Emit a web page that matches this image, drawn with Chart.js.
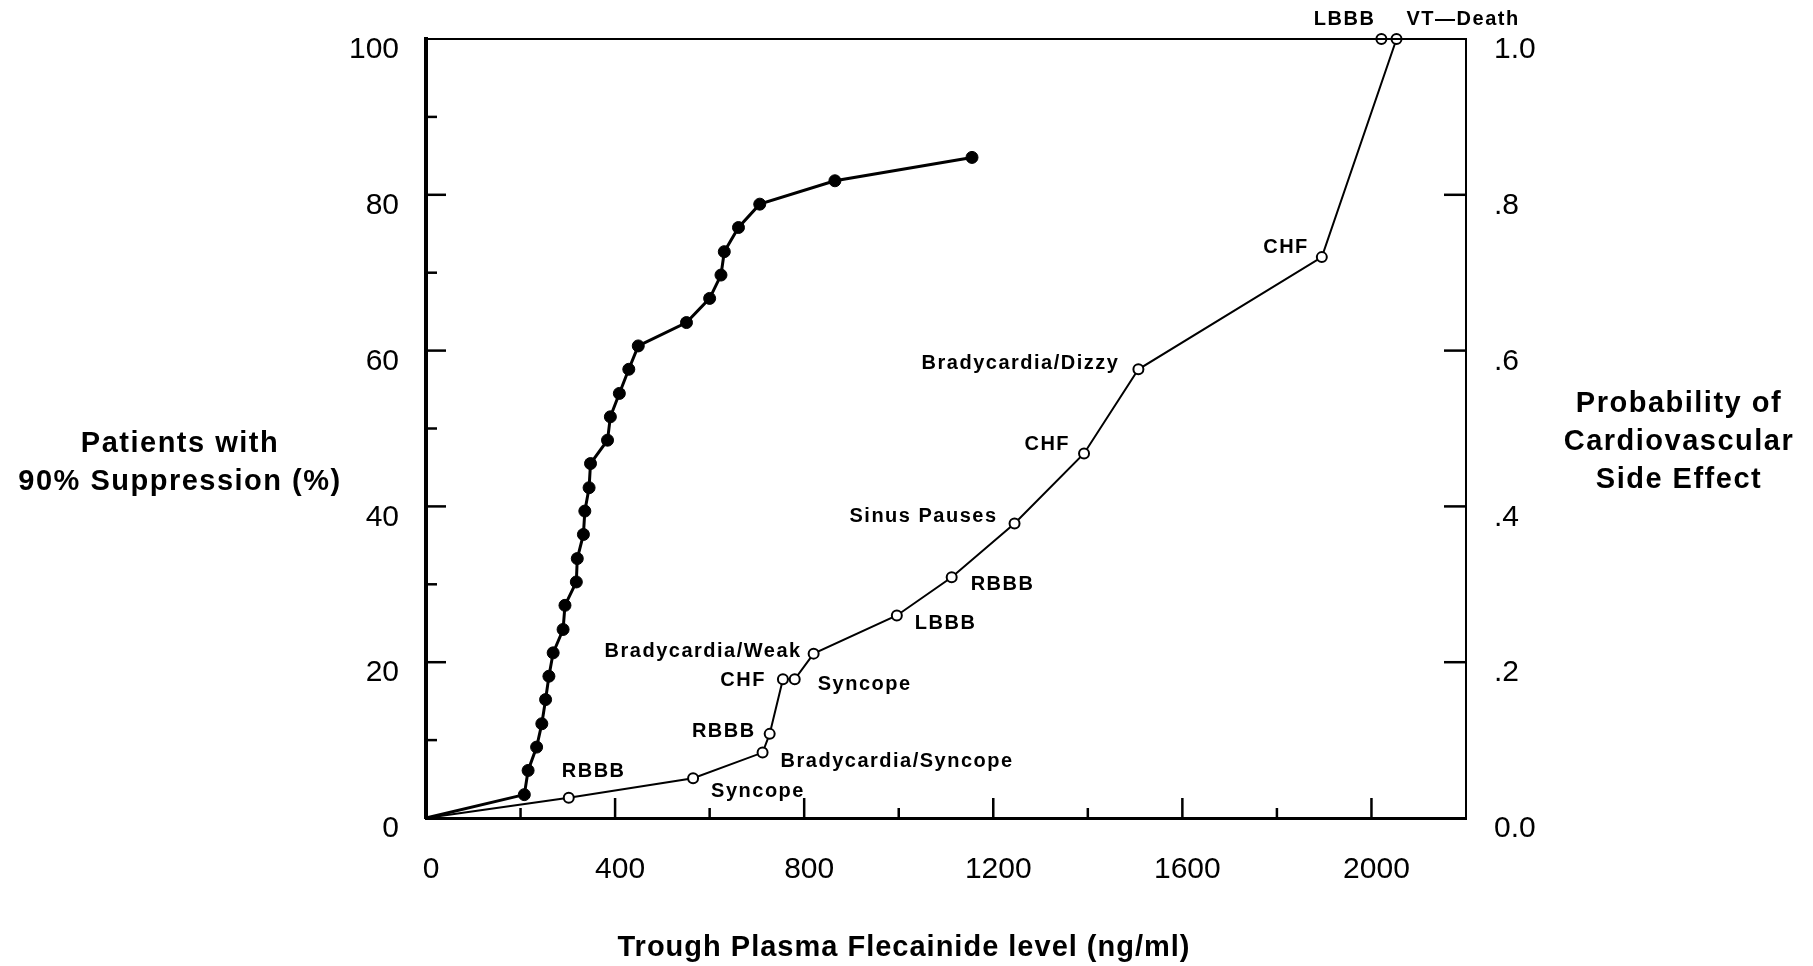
<!DOCTYPE html>
<html>
<head>
<meta charset="utf-8">
<title>Flecainide level vs suppression and side effects</title>
<script src="https://cdn.jsdelivr.net/npm/chart.js@4.4.0/dist/chart.umd.min.js"></script>
<style>
  html, body { margin: 0; padding: 0; background: #fff; }
  #wrap { position: relative; width: 1813px; height: 966px; }
  #chart { position: absolute; left: 0; top: 0; }
  .axis-title {
    position: absolute;
    font-family: 'Liberation Sans', Arial, sans-serif;
    font-weight: bold;
    font-size: 29px;
    letter-spacing: 1.5px;
    line-height: 38px;
    text-align: center;
    white-space: nowrap;
    color: #000;
    transform: translateX(-50%);
  }
</style>
</head>
<body>
<div id="wrap">
  <canvas id="chart" width="1813" height="966"></canvas>
  <div class="axis-title" style="left:180px; top:423px;">Patients with<br>90% Suppression (%)</div>
  <div class="axis-title" style="left:1679px; top:383px;">Probability of<br>Cardiovascular<br>Side Effect</div>
  <div class="axis-title" style="left:904px; top:927px; letter-spacing:1px;">Trough Plasma Flecainide level (ng/ml)</div>
</div>

<script>
// Chart data

// Filled circles: cumulative % of patients reaching 90% suppression
const suppressionLevel = [0, 208, 216, 234, 245, 253, 260, 269, 290, 294, 318, 320, 333, 336, 345, 348,
    384, 390, 409, 429, 449, 551, 600, 624, 631, 661, 706, 865, 1155];
const suppressionPct = [0, 3.0, 6.1, 9.1, 12.1, 15.2, 18.2, 21.2, 24.2, 27.3, 30.3, 33.3, 36.4, 39.4, 42.4, 45.5,
    48.5, 51.5, 54.5, 57.6, 60.6, 63.6, 66.7, 69.7, 72.7, 75.8, 78.8, 81.8, 84.8];

// Open circles: probability of cardiovascular side effect (right axis)
const sideEffectLevel = [0, 302, 565, 712, 727, 755, 780, 820, 996, 1112, 1245, 1392, 1507, 1895, 2053, 2021];
const sideEffectProb = [0, 0.026, 0.051, 0.084, 0.108, 0.178, 0.178, 0.211, 0.260, 0.309, 0.378, 0.468,
    0.576, 0.720, 1.0, 1.0];
const sideEffectNames = ['', 'RBBB', 'Syncope', 'Bradycardia/Syncope', 'RBBB', 'CHF', 'Syncope',
    'Bradycardia/Weak', 'LBBB', 'RBBB', 'Sinus Pauses', 'CHF', 'Bradycardia/Dizzy', 'CHF', 'VT\u2014Death', 'LBBB'];

// Axis ranges
const levelMax = 2200;
const pctMax = 100;
const probMax = 1.0;

// Where each event name sits next to its marker: [dx, dy, align]
const labelPlacement = [
    null,
    [-7, -26, 'left'],
    [18, 13, 'left'],
    [18, 9, 'left'],
    [-14, -2, 'right'],
    [-17, 1, 'right'],
    [23, 5, 'left'],
    [-12, -2, 'right'],
    [18, 8, 'left'],
    [19, 7, 'left'],
    [-17, -7, 'right'],
    [-14, -9, 'right'],
    [-19, -6, 'right'],
    [-13, -10, 'right'],
    [10, -20, 'left'],
    [-6, -20, 'right']
];

const FONT = "'Liberation Sans', Arial, sans-serif";

// Draws top frame line, inward ticks and the event names
const frameAndLabels = {
    id: 'frameAndLabels',
    afterDatasetsDraw(chart) {
        const { ctx, chartArea, scales } = chart;
        ctx.save();
        ctx.strokeStyle = '#000';

        // top frame
        ctx.lineWidth = 2;
        ctx.beginPath();
        ctx.moveTo(chartArea.left, chartArea.top);
        ctx.lineTo(chartArea.right, chartArea.top);
        ctx.stroke();

        // inward ticks
        ctx.lineWidth = 2.5;
        scales.x.ticks.forEach(t => {
            if (t.value <= 0 || t.value >= levelMax) return;
            const px = scales.x.getPixelForValue(t.value);
            const len = t.value % 400 === 0 ? 20 : 10;
            ctx.beginPath();
            ctx.moveTo(px, chartArea.bottom);
            ctx.lineTo(px, chartArea.bottom - len);
            ctx.stroke();
        });
        scales.y.ticks.forEach(t => {
            if (t.value <= 0 || t.value >= pctMax) return;
            const py = scales.y.getPixelForValue(t.value);
            const len = t.value % 20 === 0 ? 20 : 11;
            ctx.beginPath();
            ctx.moveTo(chartArea.left, py);
            ctx.lineTo(chartArea.left + len, py);
            ctx.stroke();
        });
        scales.y2.ticks.forEach(t => {
            if (t.value <= 0 || t.value >= probMax - 1e-9) return;
            const py = scales.y2.getPixelForValue(t.value);
            ctx.beginPath();
            ctx.moveTo(chartArea.right, py);
            ctx.lineTo(chartArea.right - 22, py);
            ctx.stroke();
        });

        // event names
        const meta = chart.getDatasetMeta(1);
        ctx.fillStyle = '#000';
        ctx.font = 'bold 20px ' + FONT;
        if ('letterSpacing' in ctx) ctx.letterSpacing = '1.5px';
        ctx.textBaseline = 'middle';
        meta.data.forEach((pt, i) => {
            const place = labelPlacement[i];
            if (!place || !sideEffectNames[i]) return;
            ctx.textAlign = place[2];
            ctx.fillText(sideEffectNames[i], pt.x + place[0], pt.y + place[1]);
        });
        ctx.restore();
    }
};

function toPoints(xs, ys) {
    return xs.map((x, i) => ({ x: x, y: ys[i] }));
}

const tickFont = { family: FONT, size: 30 };

new Chart(document.getElementById('chart'), {
    type: 'line',
    data: {
        datasets: [{
            label: 'Patients with 90% suppression',
            data: toPoints(suppressionLevel, suppressionPct),
            yAxisID: 'y',
            borderColor: '#000',
            borderWidth: 3,
            backgroundColor: '#000',
            pointBackgroundColor: '#000',
            pointBorderColor: '#000',
            pointRadius: c => c.dataIndex === 0 ? 0 : 6,
            pointBorderWidth: 1,
            tension: 0,
            clip: false
        }, {
            label: 'Cardiovascular side effect',
            data: toPoints(sideEffectLevel, sideEffectProb),
            yAxisID: 'y2',
            borderColor: '#000',
            borderWidth: 2,
            pointBackgroundColor: '#fff',
            pointBorderColor: '#000',
            pointRadius: c => c.dataIndex === 0 ? 0 : 5,
            pointBorderWidth: 2,
            tension: 0,
            clip: false
        }]
    },
    options: {
        responsive: false,
        animation: false,
        events: [],
        layout: { padding: { top: 39, left: 0, right: 0, bottom: 0 } },
        plugins: {
            legend: { display: false },
            tooltip: { enabled: false }
        },
        scales: {
            x: {
                type: 'linear',
                position: 'bottom',
                min: 0,
                max: levelMax,
                grid: { display: false },
                border: { display: true, color: '#000', width: 3 },
                ticks: {
                    stepSize: 200,
                    autoSkip: false,
                    maxRotation: 0,
                    padding: 26,
                    labelOffset: 5,
                    color: '#000',
                    font: tickFont,
                    callback: v => v % 400 === 0 ? String(v) : ''
                },
                afterFit: s => { s.height = 148; }
            },
            y: {
                type: 'linear',
                position: 'left',
                min: 0,
                max: pctMax,
                grid: { display: false },
                border: { display: true, color: '#000', width: 4 },
                ticks: {
                    stepSize: 10,
                    autoSkip: false,
                    padding: 19,
                    labelOffset: 11,
                    color: '#000',
                    font: tickFont,
                    callback: v => v % 20 === 0 ? String(v) : ''
                },
                afterFit: s => { s.width = 426; }
            },
            y2: {
                type: 'linear',
                position: 'right',
                min: 0,
                max: probMax,
                grid: { display: false },
                border: { display: true, color: '#000', width: 2 },
                ticks: {
                    stepSize: 0.2,
                    autoSkip: false,
                    padding: 20,
                    labelOffset: 11,
                    color: '#000',
                    font: tickFont,
                    callback: v => {
                        if (v === 0) return '0.0';
                        if (Math.abs(v - 1) < 1e-9) return '1.0';
                        return v.toFixed(1).replace(/^0/, '');
                    }
                },
                afterFit: s => { s.width = 347; }
            }
        }
    },
    plugins: [frameAndLabels]
});
</script>
</body>
</html>
